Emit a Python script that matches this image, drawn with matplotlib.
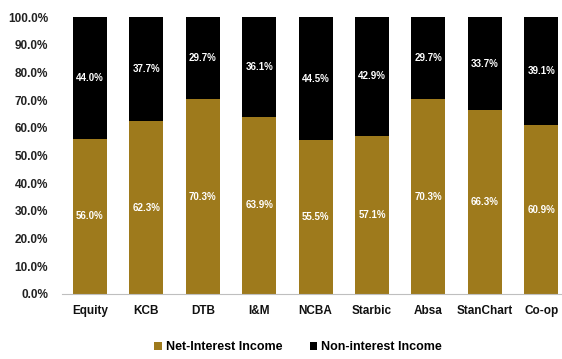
import matplotlib
matplotlib.use("Agg")
import matplotlib.pyplot as plt
import numpy as np

banks = ["Equity", "KCB", "DTB", "I&M", "NCBA", "Starbic", "Absa", "StanChart", "Co-op"]
net_interest = [56.0, 62.3, 70.3, 63.9, 55.5, 57.1, 70.3, 66.3, 60.9]
non_interest = [44.0, 37.7, 29.7, 36.1, 44.5, 42.9, 29.7, 33.7, 39.1]
y_ticks = [0, 10, 20, 30, 40, 50, 60, 70, 80, 90, 100]

gold = "#9E7A1C"
black = "#000000"

plt.rcParams["font.family"] = ["Liberation Sans", "DejaVu Sans"]

fig = plt.figure(figsize=(5.62, 3.59), dpi=100)
ax = fig.add_axes([61.8 / 562, 65 / 359, 1 - 61.8 / 562, 277 / 359])

x = np.arange(len(banks))
w = 0.6
b1 = ax.bar(x, net_interest, width=w, color=gold, label="Net-Interest Income")
b2 = ax.bar(x, non_interest, width=w, bottom=net_interest, color=black, label="Non-interest Income")

for i in range(len(banks)):
    ax.text(x[i], net_interest[i] / 2, f"{net_interest[i]:.1f}%", ha="center", va="center",
            color="white", fontsize=7, fontweight="bold")
    ax.text(x[i], net_interest[i] + non_interest[i] / 2, f"{non_interest[i]:.1f}%", ha="center",
            va="center", color="white", fontsize=7, fontweight="bold")

ax.set_xlim(-0.5, (562 - 90) / 56.4)
ax.set_ylim(0, 100)
ax.set_yticks(y_ticks)
ax.set_yticklabels([f"{v:.1f}%" for v in y_ticks], fontsize=8.5, fontweight="bold", color="#222222")
ax.set_xticks(x)
ax.set_xticklabels(banks, fontsize=8.5, fontweight="bold", color="#111111")
ax.tick_params(axis="both", length=0)
ax.tick_params(axis="y", pad=10)
ax.tick_params(axis="x", pad=8)
for s in ["top", "right", "left"]:
    ax.spines[s].set_visible(False)
ax.spines["bottom"].set_color("#BFBFBF")

fig.legend(handles=[b1, b2], loc="center", bbox_to_anchor=(298 / 562, 1 - 347 / 359), ncol=2,
           frameon=False, handlelength=0.6, handleheight=0.6, handletextpad=0.3,
           columnspacing=2.2, prop={"weight": "bold", "size": 9})

fig.savefig("out.png", dpi=100)
